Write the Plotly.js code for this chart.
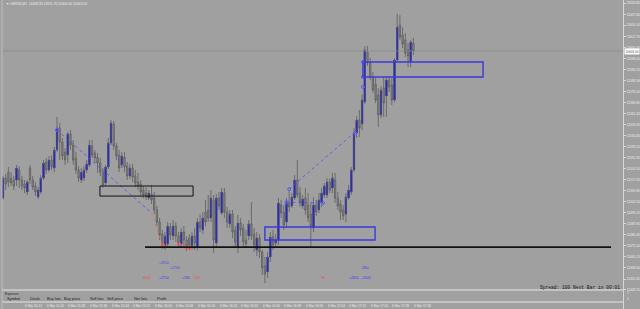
<!DOCTYPE html>
<html>
<head>
<meta charset="utf-8">
<script src="https://cdn.plot.ly/plotly-3.0.1.min.js"></script>
<style>html,body{margin:0;padding:0;background:#a0a0a0;}#chart{width:640px;height:309px;}</style>
</head>
<body>
<div id="chart"></div>
<script>
// ---- data (GER30, M1, 6 Mar) ----
const symbolTitle = "GER30,M1  11608.30 11611.70 11600.30 11603.00";
const barOpen = [
11505.0,11518.3,11522.3,11518.3,11517.0,11517.0,11523.7,11517.0,11514.3,11509.0,
11525.0,11517.0,11513.0,11505.7,11509.0,11518.3,11529.0,11523.7,11530.3,11525.0,
11537.0,11551.7,11542.3,11535.7,11533.7,11547.7,11540.3,11531.7,11523.7,11517.0,
11518.3,11523.7,11527.0,11539.7,11535.0,11532.3,11528.3,11522.3,11515.0,11525.7,
11541.7,11554.3,11539.7,11533.7,11527.0,11532.3,11526.3,11519.7,11525.0,11519.7,
11515.7,11514.3,11510.3,11508.3,11505.0,11507.7,11505.0,11497.0,11489.0,11481.0,
11473.0,11474.3,11485.7,11479.7,11486.3,11479.7,11474.3,11482.3,11477.0,11478.3,
11473.0,11479.7,11472.3,11489.0,11483.7,11495.7,11497.0,11491.7,11503.7,11475.0,
11505.0,11495.0,11508.3,11495.7,11487.7,11494.3,11483.7,11472.3,11488.3,11485.0,
11477.0,11479.7,11487.7,11481.0,11470.3,11478.3,11469.0,11459.7,11455.7,11465.7,
11479.0,11475.0,11477.0,11500.3,11495.7,11489.0,11501.7,11499.7,11505.0,11517.0,
11508.3,11499.7,11505.0,11500.3,11494.3,11485.0,11500.3,11497.0,11501.7,11507.0,
11507.0,11515.7,11511.7,11517.0,11505.0,11501.0,11497.0,11494.3,11505.0,11509.0,
11523.7,11548.3,11557.0,11554.3,11569.0,11602.3,11595.0,11585.7,11581.0,11573.7,
11560.3,11578.3,11573.0,11583.7,11580.3,11570.3,11597.0,11620.3,11613.7,11610.3,
11603.7,11595.7,11608.3];
const barHigh = [
11519.7,11521.0,11525.7,11522.3,11519.7,11527.0,11526.3,11519.7,11517.0,11517.0,
11527.0,11519.7,11515.7,11512.3,11520.3,11530.3,11531.7,11533.0,11533.7,11539.0,
11559.0,11555.0,11545.0,11538.3,11549.0,11550.3,11543.7,11535.7,11526.3,11525.0,
11526.3,11530.3,11543.7,11543.7,11537.0,11535.0,11531.7,11525.0,11527.0,11545.0,
11557.0,11556.3,11541.7,11537.0,11535.7,11535.7,11529.0,11527.7,11527.7,11523.7,
11521.7,11517.0,11513.0,11512.3,11510.3,11513.7,11509.0,11499.7,11491.7,11483.7,
11482.3,11489.0,11488.3,11490.3,11489.0,11482.3,11485.0,11486.3,11479.7,11481.0,
11482.3,11485.0,11491.7,11494.3,11495.7,11503.7,11507.0,11510.3,11507.0,11507.7,
11509.0,11511.7,11511.7,11499.0,11497.0,11497.0,11486.3,11493.7,11491.7,11487.7,
11483.7,11490.3,11502.3,11485.0,11482.3,11481.0,11470.3,11465.7,11469.0,11482.3,
11483.7,11481.0,11505.0,11503.7,11500.3,11505.0,11510.3,11508.3,11520.3,11530.3,
11512.3,11507.0,11511.7,11508.3,11501.7,11505.7,11503.7,11508.3,11511.7,11515.0,
11518.3,11517.7,11521.7,11521.7,11509.0,11503.7,11500.3,11508.3,11513.7,11525.7,
11551.7,11559.7,11563.7,11574.3,11606.3,11606.3,11598.3,11589.0,11585.0,11578.3,
11579.7,11585.7,11586.3,11586.3,11585.0,11598.3,11627.7,11627.0,11619.0,11615.0,
11608.3,11610.3,11611.7];
const barLow = [
11503.7,11510.3,11512.3,11513.0,11510.3,11513.0,11511.7,11510.3,11508.3,11507.0,
11514.3,11510.3,11506.3,11504.3,11507.7,11517.0,11521.0,11522.3,11523.7,11522.3,
11535.7,11530.3,11530.3,11527.0,11528.3,11537.0,11527.0,11521.0,11515.7,11515.0,
11516.3,11521.7,11525.7,11531.7,11528.3,11521.7,11519.7,11511.7,11513.0,11524.3,
11540.3,11537.0,11530.3,11522.3,11525.0,11522.3,11517.0,11517.7,11515.7,11512.3,
11510.3,11506.3,11505.0,11503.7,11503.7,11501.0,11494.3,11486.3,11477.0,11471.0,
11470.3,11472.3,11477.0,11477.0,11475.7,11471.7,11472.3,11473.0,11469.7,11470.3,
11471.0,11470.3,11470.3,11482.3,11481.0,11486.3,11489.0,11489.0,11468.3,11471.7,
11497.0,11493.7,11491.7,11485.0,11485.0,11478.3,11471.7,11468.3,11479.7,11473.0,
11471.7,11477.0,11477.0,11469.0,11466.3,11465.0,11453.7,11448.3,11451.7,11462.3,
11470.3,11472.3,11473.7,11491.7,11483.7,11485.0,11495.7,11498.3,11503.7,11505.0,
11499.0,11497.7,11493.7,11489.0,11471.7,11482.3,11493.0,11495.0,11499.0,11505.0,
11505.0,11508.3,11508.3,11501.7,11497.0,11490.3,11490.3,11489.0,11503.7,11507.0,
11522.3,11545.0,11545.7,11550.3,11567.7,11593.0,11583.7,11575.0,11568.3,11552.3,
11558.3,11559.0,11559.0,11575.7,11567.0,11569.0,11595.7,11610.3,11605.0,11599.0,
11592.3,11592.3,11600.3];
const barClose = [
11518.3,11514.3,11515.7,11515.0,11513.0,11525.0,11517.0,11513.0,11511.7,11515.7,
11517.0,11512.3,11509.0,11510.3,11518.3,11528.3,11523.7,11530.3,11525.7,11537.0,
11551.7,11542.3,11533.0,11530.3,11547.7,11540.3,11530.3,11523.7,11518.3,11522.3,
11523.7,11527.7,11540.3,11533.7,11531.7,11528.3,11522.3,11513.7,11525.7,11541.7,
11555.0,11539.7,11533.0,11525.0,11533.0,11525.7,11519.7,11525.0,11519.0,11515.0,
11513.0,11509.0,11507.0,11505.7,11508.3,11503.7,11497.0,11489.0,11480.3,11474.3,
11479.7,11486.3,11480.3,11486.3,11479.7,11475.0,11482.3,11477.0,11473.0,11473.7,
11479.7,11475.0,11489.0,11485.0,11491.7,11489.0,11491.7,11505.0,11477.0,11505.0,
11499.7,11509.0,11495.7,11489.0,11494.3,11482.3,11475.7,11488.3,11483.7,11475.7,
11474.3,11487.7,11479.7,11473.7,11478.3,11469.0,11458.3,11454.3,11465.7,11479.0,
11473.7,11477.0,11501.7,11495.0,11487.0,11501.7,11499.0,11505.7,11517.0,11507.0,
11501.7,11504.3,11497.0,11491.7,11486.3,11500.3,11495.7,11503.7,11508.3,11513.0,
11515.7,11510.3,11518.3,11505.0,11499.7,11495.7,11493.0,11505.7,11510.3,11523.7,
11548.3,11557.0,11551.7,11570.3,11603.7,11595.0,11585.7,11577.0,11570.3,11560.3,
11577.0,11568.3,11583.7,11579.0,11570.3,11597.0,11619.0,11612.3,11607.7,11601.7,
11599.7,11609.0,11603.0];

const priceTicks = [11634.80,11627.40,11620.10,11612.70,11605.40,11598.00,11590.70,11583.30,11576.00,
  11568.60,11561.30,11553.90,11546.60,11539.20,11531.90,11524.50,11517.20,11509.80,11502.50,11495.10,
  11487.80,11480.40,11473.10,11465.70,11458.40,11451.00,11443.70];
const timeLabelBars = [0,8,16,24,32,40,48,56,64,72,80,88,96,104,112,120,128,136,144,152];
const timeLabels = ["6 Mar 2020","6 Mar 15:12","6 Mar 15:20","6 Mar 15:28","6 Mar 15:36","6 Mar 15:44",
  "6 Mar 15:52","6 Mar 16:00","6 Mar 16:08","6 Mar 16:16","6 Mar 16:24","6 Mar 16:32","6 Mar 16:40",
  "6 Mar 16:48","6 Mar 16:56","6 Mar 17:04","6 Mar 17:12","6 Mar 17:20","6 Mar 17:28","6 Mar 17:36"];
const bidPrice = 11603.00;
const supportLevel = 11472.3, supportFrom = 52.6, supportTo = 225.2;

// zones (rectangles)
const zoneX0 = [35.9, 97.0, 133.3];
const zoneX1 = [70.4, 137.8, 177.8];
const zoneLow = [11506.3, 11477.0, 11585.7];
const zoneHigh = [11513.0, 11485.7, 11595.7];
const zoneColor = ["#111111", "#3a3ae0", "#3a3ae0"];

// trade history lines and markers
const tradeFromBar = [20, 55, 106, 105];
const tradeToBar = [55, 59, 130, 118.5];
const tradeFromPrice = [11550.3, 11495.1, 11511.0, 11502.3];
const tradeToPrice = [11495.1, 11473.7, 11548.3, 11501.7];
const tradeColor = ["#4a4aff", "#ff6060", "#4a4aff", "#4a4aff"];
const buyMarkBar = [20, 106, 105, 118.5, 130.4, 133.3, 133.3, 133.3];
const buyMarkPrice = [11550.3, 11511.0, 11502.3, 11501.7, 11548.3, 11595.7, 11585.7, 11579.0];
const sellMarkBar = [59.3, 65.2, 67.8, 69.3];
const sellMarkPrice = [11473.7, 11474.3, 11472.3, 11471.7];

// profit labels
const profitText = ["+1950","+1750","+2750","+180","+850","+2850","+1600","-6420","-550","-30"];
const profitBar = [59.6, 63.7, 59.8, 67.8, 133.9, 130.0, 134.6, 53.0, 71.7, 118.3];
const profitPrice = [11461.9, 11458.5, 11451.7, 11451.7, 11458.5, 11451.7, 11451.7, 11451.7, 11451.7, 11451.7];

const exposureHeaders = ["Symbol","Deals","Buy lots","Buy price","Sell lots","Sell price","Net lots","Profit"];
const spreadText = "Spread: 100 Next Bar in 00:01";

// ---- build ----
const idx = barOpen.map((_, i) => i);
const W = 640, H = 309, ML = 2, MR = 17;
const PW = W - ML - MR;
const px = p => (p - ML) / PW;           // page px -> paper x
const py = p => (H - p) / H;             // page px -> paper y

const bullX = [], bullBase = [], bullLen = [];
idx.forEach(i => { if (barClose[i] > barOpen[i]) { bullX.push(i); bullBase.push(barOpen[i]); bullLen.push(barClose[i] - barOpen[i]); } });

const traces = [];
traces.push({
  type: 'candlestick', x: idx, open: barOpen, high: barHigh, low: barLow, close: barClose,
  whiskerwidth: 0,
  increasing: { line: { color: '#5e5e5e', width: 0.8 }, fillcolor: '#0000ff' },
  decreasing: { line: { color: '#5e5e5e', width: 0.8 }, fillcolor: '#888888' },
  hoverinfo: 'skip', showlegend: false
});
traces.push({
  type: 'bar', x: bullX, y: bullLen, base: bullBase, width: 0.72,
  marker: { color: '#0000ff', line: { width: 0 } }, hoverinfo: 'skip', showlegend: false
});
for (let k = 0; k < tradeFromBar.length; k++) {
  traces.push({
    type: 'scatter', mode: 'lines', x: [tradeFromBar[k], tradeToBar[k]], y: [tradeFromPrice[k], tradeToPrice[k]],
    line: { color: tradeColor[k], width: 0.8, dash: 'dot' }, hoverinfo: 'skip', showlegend: false
  });
}
traces.push({ type: 'scatter', mode: 'markers', x: buyMarkBar, y: buyMarkPrice,
  marker: { symbol: 'circle-open', size: 3, color: '#5a5aff', line: { width: 1 } }, hoverinfo: 'skip', showlegend: false });
traces.push({ type: 'scatter', mode: 'markers', x: sellMarkBar, y: sellMarkPrice,
  marker: { symbol: 'circle-open', size: 3, color: '#ff5050', line: { width: 1 } }, hoverinfo: 'skip', showlegend: false });

const shapes = [];
for (let k = 0; k < zoneX0.length; k++) {
  shapes.push({ type: 'rect', xref: 'x', yref: 'y', x0: zoneX0[k], x1: zoneX1[k], y0: zoneLow[k], y1: zoneHigh[k],
    line: { color: zoneColor[k], width: k === 0 ? 1 : 1.4 }, fillcolor: 'rgba(0,0,0,0)' });
}
shapes.push({ type: 'line', xref: 'x', yref: 'y', x0: supportFrom, x1: supportTo, y0: supportLevel, y1: supportLevel,
  line: { color: '#111111', width: 1.8 } });
shapes.push({ type: 'line', xref: 'paper', yref: 'y', x0: 0, x1: 1, y0: bidPrice, y1: bidPrice,
  line: { color: '#868686', width: 0.7 } });
// sub-window separators
shapes.push({ type: 'line', xref: 'paper', yref: 'paper', x0: 0, x1: 1, y0: py(290), y1: py(290), line: { color: '#cfcfcf', width: 1.5 } });
shapes.push({ type: 'line', xref: 'paper', yref: 'paper', x0: 0, x1: 1, y0: py(302), y1: py(302), line: { color: '#cfcfcf', width: 1.5 } });
shapes.push({ type: 'line', xref: 'paper', yref: 'paper', x0: 0, x1: 0, y0: 0, y1: 1, line: { color: '#bdbdbd', width: 1 } });

const F = 'Liberation Sans, Arial, sans-serif';
const ann = [];
ann.push({ xref: 'paper', yref: 'paper', x: px(4), y: py(3.8), xanchor: 'left', yanchor: 'middle', showarrow: false,
  text: '▼ ' + symbolTitle, font: { family: F, size: 3.4, color: '#ececec' } });
timeLabelBars.forEach((b, k) => ann.push({ xref: 'x', yref: 'paper', x: b - 0.5, y: py(305.5), xanchor: 'left', yanchor: 'middle',
  showarrow: false, text: timeLabels[k], font: { family: F, size: 3.2, color: '#ededed' } }));
profitText.forEach((t, k) => ann.push({ xref: 'x', yref: 'y', x: profitBar[k], y: profitPrice[k], xanchor: 'center', yanchor: 'middle',
  showarrow: false, text: t, font: { family: F, size: 3.4, color: t.startsWith('-') ? '#ff4545' : '#3a3aff' } }));
ann.push({ xref: 'paper', yref: 'y', x: 1, y: bidPrice, xanchor: 'left', yanchor: 'middle', showarrow: false, xshift: 1,
  text: bidPrice.toFixed(2), bgcolor: '#ffffff', borderpad: 0.5, font: { family: F, size: 3.2, color: '#555555' } });
ann.push({ xref: 'paper', yref: 'paper', x: px(2.5), y: py(293.5), xanchor: 'left', yanchor: 'middle', showarrow: false,
  text: 'Exposure', font: { family: F, size: 3.2, color: '#262626' } });
const headerPx = [5, 28, 45, 62, 88, 105, 132, 155];
exposureHeaders.forEach((t, k) => ann.push({ xref: 'paper', yref: 'paper', x: px(headerPx[k]), y: py(298.5), xanchor: 'left', yanchor: 'middle',
  showarrow: false, text: t, font: { family: F, size: 3.9, color: '#1c1c1c' } }));
ann.push({ xref: 'paper', yref: 'paper', x: px(622), y: py(287.3), xanchor: 'right', yanchor: 'middle', showarrow: false,
  text: spreadText, font: { family: 'Liberation Mono, Courier New, monospace', size: 4.6, color: '#141414' } });
ann.push({ xref: 'paper', yref: 'paper', x: 1, y: py(293), xanchor: 'left', yanchor: 'middle', xshift: 2, showarrow: false,
  text: '1', font: { family: F, size: 3, color: '#ececec' } });
ann.push({ xref: 'paper', yref: 'paper', x: 1, y: py(298.5), xanchor: 'left', yanchor: 'middle', xshift: 2, showarrow: false,
  text: '0', font: { family: F, size: 3, color: '#ececec' } });

const layout = {
  width: W, height: H,
  margin: { l: ML, r: MR, t: 0, b: 0, pad: 0 },
  paper_bgcolor: '#a0a0a0', plot_bgcolor: '#a0a0a0',
  showlegend: false, hovermode: false, dragmode: false,
  boxgap: 0.3,
  xaxis: { range: [-0.37, 229.63], showgrid: false, zeroline: false, showticklabels: false, ticks: '',
    rangeslider: { visible: false }, fixedrange: true, showline: false },
  yaxis: { range: [11431.0, 11637.0], side: 'right', showgrid: false, zeroline: false,
    tickmode: 'array', tickvals: priceTicks, ticktext: priceTicks.map(v => v.toFixed(2)),
    ticks: 'outside', ticklen: 2, tickcolor: '#d6d6d6', tickwidth: 1,
    showline: true, linecolor: '#d6d6d6', linewidth: 1,
    tickfont: { family: F, size: 3.2, color: '#ededed' }, fixedrange: true },
  shapes: shapes, annotations: ann
};
Plotly.newPlot('chart', traces, layout, { staticPlot: true, displayModeBar: false });
</script>
</body>
</html>
